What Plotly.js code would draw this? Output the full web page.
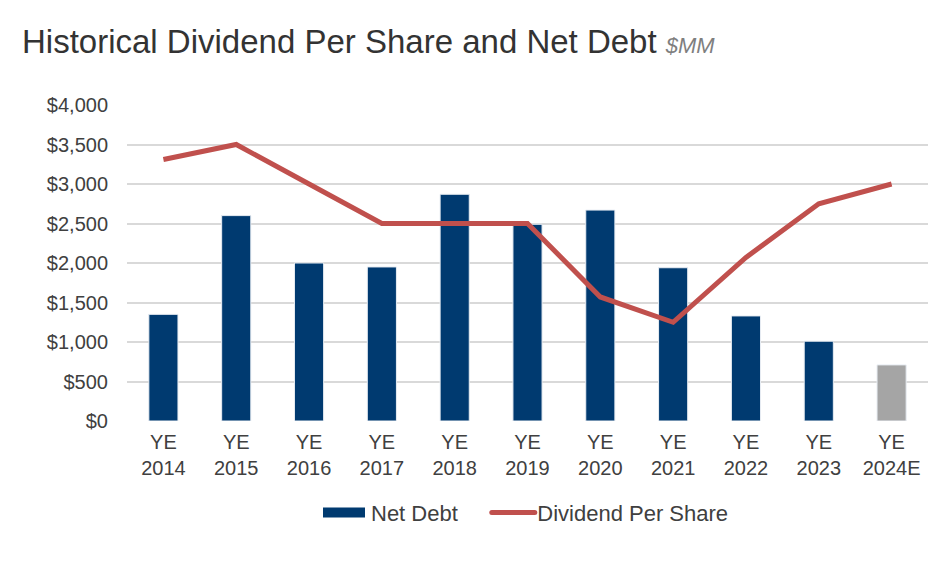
<!DOCTYPE html>
<html>
<head>
<meta charset="utf-8">
<script src="https://cdn.plot.ly/plotly-3.0.1.min.js"></script>
<style>html,body{margin:0;padding:0;background:#fff;}#chart{width:940px;height:566px;}</style>
</head>
<body>
<div id="chart"></div>
<script>
var categories = ["YE<br>2014","YE<br>2015","YE<br>2016","YE<br>2017","YE<br>2018","YE<br>2019","YE<br>2020","YE<br>2021","YE<br>2022","YE<br>2023","YE<br>2024E"];
var netDebt = [1350, 2600, 2000, 1950, 2870, 2490, 2670, 1940, 1330, 1010, 710];
var dividendPerShare = [3310, 3500, 3000, 2500, 2500, 2500, 1570, 1250, 2070, 2750, 3000];
var barColors = ["#003A70","#003A70","#003A70","#003A70","#003A70","#003A70","#003A70","#003A70","#003A70","#003A70","#A5A5A5"];
var yTickVals = [0, 500, 1000, 1500, 2000, 2500, 3000, 3500, 4000];
var yTickText = ["$0","$500","$1,000","$1,500","$2,000","$2,500","$3,000","$3,500","$4,000"];

var font = "Liberation Sans, Arial, sans-serif";
var traces = [
  {
    type: "bar", name: "Net Debt", x: categories, y: netDebt,
    marker: {color: barColors, line: {color: "#E8EDF3", width: 1}},
    width: 0.4, hoverinfo: "skip", showlegend: false
  },
  {
    // legend entry only (wide swatch like the original)
    type: "scatter", mode: "lines", name: "Net Debt&nbsp;&nbsp;&nbsp;&nbsp;", x: [null], y: [null],
    line: {color: "#003A70", width: 12}, hoverinfo: "skip", showlegend: true
  },
  {
    type: "scatter", mode: "lines", name: "Dividend Per Share", x: categories, y: dividendPerShare,
    line: {color: "#C0504D", width: 5}, hoverinfo: "skip"
  }
];
var layout = {
  width: 940, height: 566,
  paper_bgcolor: "#fff", plot_bgcolor: "#fff",
  margin: {l: 127, r: 12, t: 105, b: 145},
  font: {family: font, color: "#404040", size: 20},
  title: {
    text: "Historical Dividend Per Share and Net Debt <span style='font-size:22px;color:#7F7F7F'><i>$MM</i></span>",
    x: 22/940, xanchor: "left", xref: "container",
    y: 1 - 41/566, yanchor: "middle", yref: "container",
    font: {family: font, size: 33, color: "#333333"}
  },
  xaxis: {
    type: "category", showgrid: false, zeroline: false, showline: false,
    ticks: "", ticklabelstandoff: 7, tickfont: {size: 20, color: "#404040"}
  },
  yaxis: {
    range: [0, 4000], tickvals: yTickVals, ticktext: yTickText,
    showgrid: true, gridcolor: "#D9D9D9", gridwidth: 2, zeroline: false,
    showline: false, ticks: "", ticklabelstandoff: 18,
    tickfont: {size: 20, color: "#404040"}
  },
  bargap: 0.6,
  showlegend: true,
  legend: {
    orientation: "h", x: 0.5, xanchor: "center", y: -0.29, yanchor: "middle",
    font: {size: 22, color: "#404040"}, itemwidth: 40, traceorder: "normal"
  }
};
Plotly.newPlot("chart", traces, layout, {displayModeBar: false, staticPlot: true}).then(function (gd) {
  var paths = gd.querySelectorAll(".legend .legendlines path");
  paths.forEach(function (p, i) {
    if (i === 0) { p.setAttribute("d", "M2,0h42"); p.style.strokeLinecap = "butt"; }
    else { p.setAttribute("d", "M4.5,0h43"); p.style.strokeLinecap = "round"; }
  });
});
</script>
</body>
</html>
